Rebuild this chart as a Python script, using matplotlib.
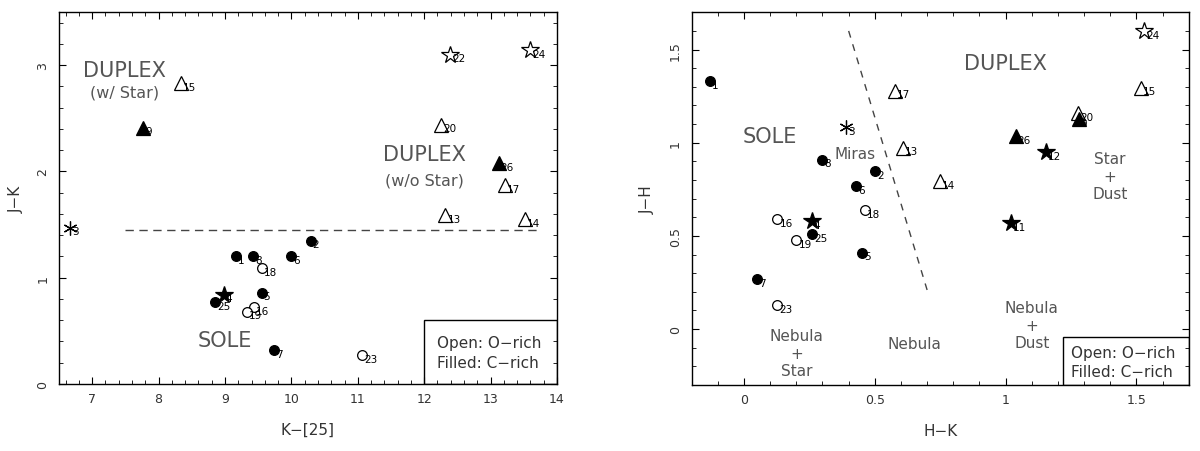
import matplotlib
matplotlib.use("Agg")
import matplotlib.pyplot as plt
from matplotlib.ticker import MultipleLocator, FormatStrFormatter
from matplotlib.patches import Rectangle

plt.rcParams['font.family'] = ['DejaVu Sans']
plt.rcParams['axes.linewidth'] = 1.0

# %% DATA

# object id -> (shape, filled)
kind = {
    1: ('circ', True), 2: ('circ', True), 3: ('ast', True), 4: ('star', True),
    5: ('circ', True), 6: ('circ', True), 7: ('circ', True), 8: ('circ', True),
    9: ('tri', True), 11: ('star', True), 12: ('star', True), 13: ('tri', False),
    14: ('tri', False), 15: ('tri', False), 16: ('circ', False), 17: ('tri', False),
    18: ('circ', False), 19: ('circ', False), 20: ('tri', False), 22: ('star', False),
    23: ('circ', False), 24: ('star', False), 25: ('circ', True), 26: ('tri', True),
}

# left panel: K-[25] vs J-K
ids_l = [1, 8, 6, 2, 18, 5, 4, 25, 16, 19, 7, 23, 3, 13, 14, 17, 26, 20, 22, 24, 15, 9]
k25_l = [9.16, 9.42, 10.0, 10.29, 9.56, 9.55, 8.98, 8.85, 9.44, 9.33, 9.74, 11.07,
         6.67, 12.32, 13.52, 13.22, 13.12, 12.26, 12.39, 13.59, 8.34, 7.77]
jk_l = [1.20, 1.20, 1.20, 1.35, 1.09, 0.86, 0.84, 0.77, 0.72, 0.68, 0.32, 0.27,
        1.47, 1.59, 1.55, 1.87, 2.08, 2.44, 3.10, 3.14, 2.83, 2.41]

# right panel: H-K vs J-H
ids_r = [1, 3, 8, 2, 6, 17, 13, 18, 16, 4, 25, 19, 5, 7, 23, 14, 26, 12, 11, 20, 9, 15, 24]
hk_r = [-0.13, 0.389, 0.298, 0.50, 0.427, 0.577, 0.608, 0.461, 0.128, 0.258, 0.26, 0.20,
        0.451, 0.048, 0.127, 0.748, 1.038, 1.155, 1.019, 1.278, 1.279, 1.518, 1.528]
jh_r = [1.33, 1.084, 0.909, 0.846, 0.768, 1.28, 0.973, 0.639, 0.589, 0.58, 0.51, 0.477,
        0.41, 0.268, 0.128, 0.794, 1.035, 0.95, 0.568, 1.157, 1.125, 1.295, 1.60]

style = {
    'circ': ('o', 7),
    'tri': ('^', 9.5),
    'star': ('*', 13),
    'ast': ((6, 2, 0), 10),
}

region_color = '#555555'
text_color = '#333333'


def draw_points(ax, ids, xs, ys):
    for i, x, y in zip(ids, xs, ys):
        shape, filled = kind[i]
        m, ms = style[shape]
        ax.plot(x, y, marker=m, ms=ms, mfc='k' if filled else 'white',
                mec='k', mew=0.9, ls='none', zorder=3)
        ax.annotate(str(i), (x, y), xytext=(1.5, 1), textcoords='offset points',
                    ha='left', va='top', fontsize=7.5, color='k', zorder=4)


def setup_axes(ax, xlim, ylim, xmaj, xmin, ymaj, ymin):
    ax.set_xlim(*xlim)
    ax.set_ylim(*ylim)
    ax.xaxis.set_major_locator(MultipleLocator(xmaj))
    ax.xaxis.set_minor_locator(MultipleLocator(xmin))
    ax.yaxis.set_major_locator(MultipleLocator(ymaj))
    ax.yaxis.set_minor_locator(MultipleLocator(ymin))
    ax.xaxis.set_major_formatter(FormatStrFormatter('%g'))
    ax.yaxis.set_major_formatter(FormatStrFormatter('%g'))
    ax.tick_params(which='both', direction='in', top=True, right=True,
                   labelsize=9, labelcolor=text_color)
    ax.tick_params(which='major', length=5)
    ax.tick_params(which='minor', length=3)
    ax.tick_params(axis='x', pad=6)
    ax.tick_params(axis='y', pad=7)
    for lab in ax.get_yticklabels():
        lab.set_rotation(90)
        lab.set_va('center')


def legend_box(ax, x0, y0, ty1, ty2, tx):
    xr = ax.get_xlim()[1]
    yb = ax.get_ylim()[0]
    ax.add_patch(Rectangle((x0, yb), xr - x0, y0 - yb, fill=False,
                           ec='k', lw=1.0, zorder=2))
    ax.text(tx, ty1, 'Open: O\u2212rich', fontsize=11, color=text_color, va='center')
    ax.text(tx, ty2, 'Filled: C\u2212rich', fontsize=11, color=text_color, va='center')


fig = plt.figure(figsize=(12, 4.52), dpi=100)

# %% LEFT PANEL
ax1 = fig.add_axes([59 / 1200, 67 / 452, 498 / 1200, 372 / 452])
setup_axes(ax1, (6.5, 14), (0, 3.5), 1, 0.2, 1, 0.2)
draw_points(ax1, ids_l, k25_l, jk_l)
ax1.plot([7.5, 13.7], [1.45, 1.45], ls=(0, (6, 4)), color='#444444', lw=1.0)
ax1.text(7.49, 2.95, 'DUPLEX', fontsize=15, color=region_color, ha='center', va='center')
ax1.text(7.49, 2.75, '(w/ Star)', fontsize=11.5, color=region_color, ha='center', va='center')
ax1.text(12.0, 2.16, 'DUPLEX', fontsize=15, color=region_color, ha='center', va='center')
ax1.text(12.0, 1.92, '(w/o Star)', fontsize=11.5, color=region_color, ha='center', va='center')
ax1.text(9.0, 0.41, 'SOLE', fontsize=15, color=region_color, ha='center', va='center')
legend_box(ax1, 12.0, 0.6, 0.395, 0.2, 12.2)
ax1.set_xlabel('K\u2212[25]', fontsize=11, color=text_color, labelpad=12)
ax1.set_ylabel('J\u2212K', fontsize=11, color=text_color, labelpad=9)

# %% RIGHT PANEL
ax2 = fig.add_axes([691.7 / 1200, 66 / 452, 497 / 1200, 372.7 / 452])
setup_axes(ax2, (-0.2, 1.7), (-0.3, 1.7), 0.5, 0.1, 0.5, 0.1)
draw_points(ax2, ids_r, hk_r, jh_r)
ax2.plot([0.4, 0.7], [1.6, 0.21], ls=(0, (5, 5)), color='#444444', lw=1.0)
ax2.text(0.10, 1.035, 'SOLE', fontsize=15, color=region_color, ha='center', va='center')
ax2.text(0.423, 0.943, 'Miras', fontsize=11, color=region_color, ha='center', va='center')
ax2.text(1.0, 1.43, 'DUPLEX', fontsize=15, color=region_color, ha='center', va='center')
ax2.text(1.40, 0.82, 'Star\n+\nDust', fontsize=11, color=region_color, ha='center',
         va='center', linespacing=1.2)
ax2.text(0.20, -0.13, 'Nebula\n+\nStar', fontsize=11, color=region_color, ha='center',
         va='center', linespacing=1.2)
ax2.text(0.65, -0.075, 'Nebula', fontsize=11, color=region_color, ha='center', va='center')
ax2.text(1.10, 0.02, 'Nebula\n+\nDust', fontsize=11, color=region_color, ha='center',
         va='center', linespacing=1.2)
legend_box(ax2, 1.218, -0.04, -0.123, -0.225, 1.25)
ax2.set_xlabel('H\u2212K', fontsize=11, color=text_color, labelpad=12)
ax2.set_ylabel('J\u2212H', fontsize=11, color=text_color, labelpad=10)

fig.savefig('out.png', dpi=100)
